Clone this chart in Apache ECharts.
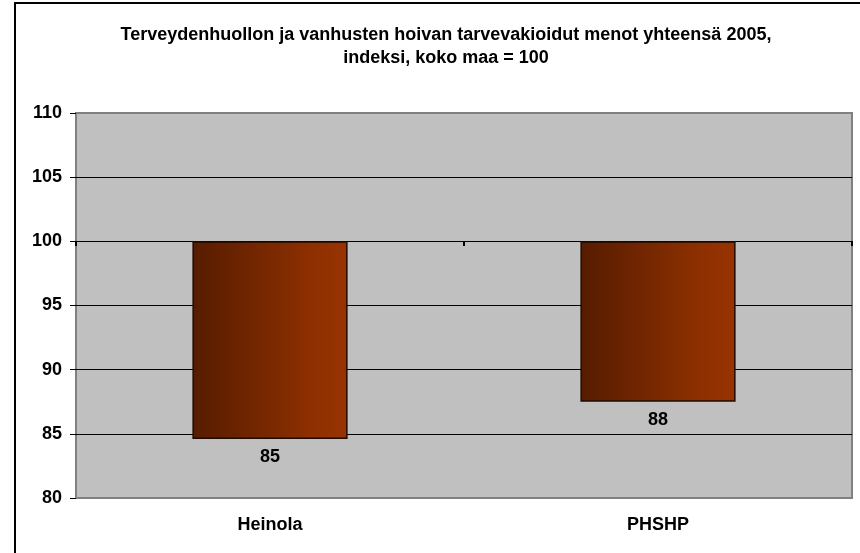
<!DOCTYPE html>
<html>
<head>
<meta charset="utf-8">
<script src="https://cdn.jsdelivr.net/npm/echarts@6/dist/echarts.min.js"></script>
<style>
  html, body { margin: 0; padding: 0; background: #fff; }
  #main { width: 860px; height: 553px; }
</style>
</head>
<body>
<div id="main"></div>
<script>
// data
const categories = ['Heinola', 'PHSHP']
const values = [84.6, 87.5]
const baseline = 100
const yTicks = { min: 80, max: 110, interval: 5 }
const titleText = 'Terveydenhuollon ja vanhusten hoivan tarvevakioidut menot yhteensä 2005,\nindeksi, koko maa = 100'

const font = 'Liberation Sans, Arial, sans-serif'
const chart = echarts.init(document.getElementById('main'))

const option = {
  animation: false,
  backgroundColor: '#ffffff',
  title: {
    text: titleText,
    left: 441,
    top: 19,
    textAlign: 'center',
    textStyle: {
      fontFamily: font,
      fontSize: 18,
      fontWeight: 'bold',
      color: '#000',
      lineHeight: 23
    }
  },
  graphic: [
    {
      type: 'rect',
      shape: { x: 15, y: 3, width: 900, height: 600 },
      style: { fill: 'none', stroke: '#000', lineWidth: 2 },
      silent: true
    }
  ],
  grid: {
    left: 76,
    top: 113,
    width: 776,
    height: 385,
    show: true,
    backgroundColor: '#c0c0c0',
    borderColor: '#808080',
    borderWidth: 2
  },
  xAxis: [
    {
      type: 'category',
      data: categories,
      axisLine: { show: true, lineStyle: { color: '#808080', width: 2 } },
      axisTick: { show: false },
      axisLabel: {
        margin: 18,
        fontFamily: font,
        fontSize: 18,
        fontWeight: 'bold',
        color: '#000'
      }
    },
    {
      // axis crossing at 100 (tick marks only)
      type: 'category',
      data: categories,
      position: 'bottom',
      offset: -257,
      axisLine: { show: true, lineStyle: { color: '#000', width: 1 } },
      axisTick: { show: true, length: 5, lineStyle: { color: '#000', width: 2 } },
      axisLabel: { show: false }
    }
  ],
  yAxis: {
    type: 'value',
    min: yTicks.min,
    max: yTicks.max,
    interval: yTicks.interval,
    axisLine: { show: false },
    axisTick: { show: true, length: 6, lineStyle: { color: '#000', width: 1 } },
    axisLabel: {
      margin: 14,
      fontFamily: font,
      fontSize: 18,
      fontWeight: 'bold',
      color: '#000'
    },
    splitLine: {
      show: true,
      showMinLine: false,
      showMaxLine: false,
      lineStyle: { color: '#000', width: 1 }
    }
  },
  series: [
    {
      name: 'base',
      type: 'bar',
      stack: 'idx',
      barWidth: '40%',
      data: values,
      itemStyle: { color: 'transparent' },
      silent: true
    },
    {
      name: 'indeksi',
      type: 'bar',
      stack: 'idx',
      barWidth: '40%',
      data: values.map(v => baseline - v),
      itemStyle: {
        color: new echarts.graphic.LinearGradient(0, 0, 1, 0, [
          { offset: 0, color: '#561c00' },
          { offset: 0.75, color: '#8c2f00' },
          { offset: 1, color: '#993300' }
        ]),
        borderColor: '#1f0a00',
        borderWidth: 1.5
      },
      label: {
        show: true,
        position: 'bottom',
        distance: 9,
        fontFamily: font,
        fontSize: 18,
        fontWeight: 'bold',
        color: '#000',
        formatter: p => Math.round(values[p.dataIndex])
      }
    }
  ]
}

chart.setOption(option)
</script>
</body>
</html>
